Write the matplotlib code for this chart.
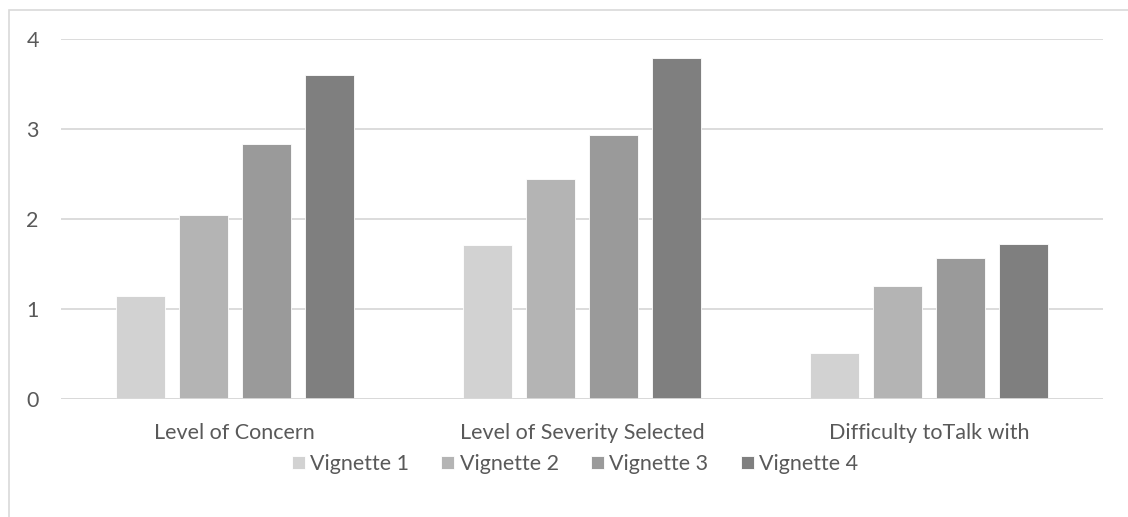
import matplotlib.pyplot as plt
import numpy as np
from matplotlib.patches import Rectangle

categories = ["Level of Concern", "Level of Severity Selected", "Difficulty toTalk with"]
series_names = ["Vignette 1", "Vignette 2", "Vignette 3", "Vignette 4"]
vignette_1 = [1.15, 1.71, 0.51]
vignette_2 = [2.05, 2.44, 1.26]
vignette_3 = [2.83, 2.93, 1.57]
vignette_4 = [3.60, 3.79, 1.72]
yticks = [0, 1, 2, 3, 4]

colors = ["#d2d2d2", "#b4b4b4", "#9a9a9a", "#7f7f7f"]
text_color = "#595959"
grid_color = "#d9d9d9"

plt.rcParams["font.family"] = ["Lato", "DejaVu Sans"]

W, H = 1128, 517
fig = plt.figure(figsize=(W / 100, H / 100), dpi=100)
ax = fig.add_axes([61 / W, 1 - 399 / H, (1103 - 61) / W, (399 - 39) / H])

# chart frame: only top and left edges fall inside the image
fig.patches.append(Rectangle((9 / W, -0.1), 1.2, 1 - 10 / H + 0.1,
                             transform=fig.transFigure, fill=False,
                             edgecolor="#d9d9d9", linewidth=1.2))

x = np.arange(len(categories))
pitch = 0.1816
width = 0.141
all_series = [vignette_1, vignette_2, vignette_3, vignette_4]
for i, (vals, name, c) in enumerate(zip(all_series, series_names, colors)):
    ax.bar(x + (i - 1.5) * pitch, vals, width, color=c, label=name,
           edgecolor="white", linewidth=0.6, zorder=3)

ax.set_xlim(-0.5, 2.5)
ax.set_ylim(0, 4)
ax.set_yticks(yticks)
ax.set_yticklabels([str(t) for t in yticks])
ax.set_xticks(x)
ax.set_xticklabels(categories)
ax.yaxis.grid(True, color=grid_color, linewidth=1.3, zorder=0)
ax.axhline(0, color=grid_color, linewidth=1.3, zorder=4)
for s in ax.spines.values():
    s.set_visible(False)
ax.tick_params(axis="both", length=0, labelsize=15.5, colors=text_color)
ax.tick_params(axis="y", pad=16)
ax.tick_params(axis="x", pad=17.5)

leg = fig.legend(loc="center", bbox_to_anchor=(575 / W, 1 - 464 / H), ncol=4,
                 frameon=False, fontsize=15.5, handlelength=0.6,
                 handleheight=0.6, handletextpad=0.25, columnspacing=1.5)
for t in leg.get_texts():
    t.set_color(text_color)

fig.savefig("out.png", dpi=100)
